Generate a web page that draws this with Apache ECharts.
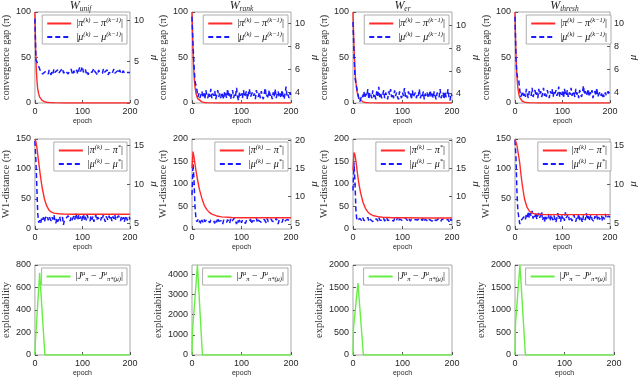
<!DOCTYPE html>
<html><head><meta charset="utf-8">
<script src="https://cdn.jsdelivr.net/npm/echarts@6/dist/echarts.min.js"></script>
<style>html,body{margin:0;padding:0;background:#fff}#c{width:640px;height:378px}</style>
</head><body><div id="c"></div>
<script>
// ---------------- DATA ----------------
const methodTitles = ['unif', 'rank', 'er', 'thresh'];
const xTicks = [0, 100, 200];

// noisy mu traces are sampled every 2 epochs (0..200)
const noiseEpochs = Array.from({length: 101}, (_, i) => i * 2);

// Row 1: |mu(k) - mu(k-1)|
const muGapUnif = [
  10.2, 5.3, 5.0, 4.7, 4.4, 4.1, 3.8, 3.6, 3.5, 3.7,
  3.4, 3.8, 3.6, 3.9, 3.5, 4.0, 3.7, 3.4, 3.9, 3.6,
  4.1, 3.7, 3.5, 3.8, 4.0, 3.6, 3.4, 3.9, 3.7, 4.2,
  3.6, 3.5, 3.9, 3.7, 4.0, 3.5, 3.8, 3.6, 4.1, 3.7,
  3.4, 3.9, 3.6, 3.8, 4.0, 3.5, 3.7, 4.3, 3.8, 3.6,
  4.4, 3.7, 3.5, 4.1, 3.6, 3.9, 3.4, 3.8, 4.0, 3.6,
  3.7, 3.5, 4.2, 3.8, 3.6, 3.9, 3.4, 4.0, 3.7, 3.5,
  3.9, 3.6, 4.1, 3.7, 3.5, 3.8, 4.0, 3.4, 3.7, 3.9,
  3.6, 3.5, 3.8, 4.1, 3.6, 3.7, 3.4, 3.9, 3.6, 4.0,
  3.8, 3.5, 3.7, 3.9, 3.6, 3.4, 3.8, 3.7, 3.5, 3.6,
  3.7];
const muGapRank = [
  10.6, 8.2, 6.4, 5.0, 4.6, 4.2, 3.6, 3.9, 3.5, 3.8,
  4.1, 3.6, 3.9, 3.4, 4.2, 3.7, 3.5, 4.0, 3.6, 4.3,
  3.5, 3.9, 3.7, 4.1, 3.4, 3.8, 4.2, 3.6, 3.9, 3.5,
  4.0, 3.7, 3.4, 4.1, 3.8, 3.5, 4.3, 3.6, 3.9, 3.4,
  3.8, 4.2, 3.5, 3.9, 3.7, 4.4, 3.6, 3.3, 4.0, 3.7,
  3.9, 3.5, 4.2, 3.6, 3.8, 4.1, 3.4, 3.9, 4.3, 3.6,
  3.5, 4.0, 3.7, 3.9, 3.4, 4.2, 3.8, 3.6, 4.0, 3.5,
  4.1, 3.7, 3.4, 3.9, 4.4, 3.6, 3.8, 3.5, 4.2, 3.7,
  3.9, 3.4, 4.0, 3.6, 4.3, 3.5, 3.8, 4.1, 3.6, 3.9,
  3.5, 4.2, 3.7, 3.4, 3.9, 4.5, 3.6, 3.8, 3.5, 4.0,
  3.7];
const muGapEr = [
  10.3, 7.6, 5.4, 4.9, 4.4, 4.0, 3.5, 3.3, 3.6, 3.9,
  3.7, 4.2, 3.6, 4.0, 3.8, 4.4, 3.5, 4.1, 3.9, 3.6,
  4.3, 3.7, 4.0, 3.5, 4.2, 3.8, 4.6, 3.7, 4.0, 3.6,
  3.9, 4.3, 3.6, 4.1, 3.8, 3.5, 4.2, 3.9, 4.4, 3.7,
  4.0, 3.6, 4.3, 3.8, 4.1, 3.7, 3.5, 4.2, 3.9, 3.6,
  4.1, 3.8, 4.5, 3.7, 3.9, 3.6, 4.2, 3.8, 4.0, 3.5,
  4.3, 3.7, 3.9, 4.1, 3.6, 4.0, 3.8, 4.4, 3.6, 3.9,
  3.7, 4.2, 3.5, 4.0, 3.8, 4.1, 3.6, 3.9, 4.3, 3.7,
  4.0, 3.6, 4.2, 3.8, 3.5, 4.1, 3.9, 3.7, 4.4, 3.6,
  3.9, 4.1, 3.5, 4.2, 3.7, 3.9, 4.4, 3.6, 3.4, 4.0,
  3.8];
const muGapThresh = [
  10.6, 7.0, 5.6, 5.2, 5.0, 4.2, 3.6, 3.8, 4.1, 3.7,
  4.0, 3.6, 4.3, 3.8, 3.5, 4.1, 3.9, 3.7, 4.4, 3.6,
  3.9, 4.2, 3.7, 4.0, 3.5, 4.3, 3.8, 4.1, 3.6, 3.9,
  4.4, 3.7, 4.0, 3.6, 4.2, 3.8, 3.5, 4.1, 3.9, 4.3,
  3.6, 4.0, 3.8, 4.2, 3.7, 3.9, 4.5, 3.6, 4.0, 3.8,
  4.1, 3.5, 4.3, 3.9, 3.7, 4.2, 3.6, 4.0, 3.8, 4.4,
  3.7, 4.1, 3.9, 3.6, 4.3, 3.8, 4.0, 3.5, 4.2, 3.9,
  3.6, 4.0, 4.6, 3.8, 4.1, 3.7, 3.9, 4.3, 3.6, 4.0,
  3.8, 4.2, 3.5, 3.9, 4.1, 3.7, 4.4, 3.6, 3.8, 4.0,
  3.7, 3.9, 3.5, 3.8, 3.6, 4.0, 3.7, 3.9, 4.1, 3.8,
  3.9];

// Row 1: |pi(k) - pi(k-1)|
const piGapEpochs = [0, 1, 2, 3, 4, 5, 6, 8, 10, 12, 15, 20, 25, 30, 40, 50, 60, 80, 100, 150, 200];
const piGapUnif   = [100, 72, 50, 36, 27, 20, 15, 10, 6.5, 4.5, 2.8, 1.4, 0.8, 0.5, 0.2, 0.1, 0.05, 0, 0, 0, 0];
const piGapRank   = [100, 78, 58, 42, 32, 24, 18, 11, 7, 4.5, 2.6, 1.2, 0.6, 0.3, 0.1, 0, 0, 0, 0, 0, 0];
const piGapEr     = [100, 80, 62, 48, 37, 28, 22, 13, 8, 5, 3, 1.3, 0.6, 0.3, 0.1, 0, 0, 0, 0, 0, 0];
const piGapThresh = [100, 75, 55, 40, 30, 23, 17, 10, 6, 4, 2.2, 1, 0.5, 0.2, 0.1, 0, 0, 0, 0, 0, 0];

// Row 2: |mu(k) - mu*|
const muDistUnif = [
  15.6, 13.2, 9.8, 6.2, 5.1, 5.4, 5.0, 5.6, 5.3, 5.8,
  5.2, 5.7, 5.5, 6.0, 5.4, 5.9, 5.6, 5.3, 5.8, 5.5,
  6.1, 5.4, 5.0, 5.7, 5.2, 5.6, 5.9, 5.3, 5.5, 5.8,
  4.8, 5.4, 5.2, 5.7, 5.5, 6.0, 5.6, 5.3, 5.8, 5.4,
  5.7, 6.0, 5.5, 6.3, 5.8, 5.4, 6.1, 5.6, 5.9, 5.3,
  5.7, 6.2, 5.5, 5.9, 5.4, 6.1, 5.6, 5.8, 5.3, 6.0,
  5.5, 5.9, 5.2, 5.7, 6.1, 5.4, 5.8, 5.6, 6.0, 5.3,
  5.8, 5.5, 6.2, 5.6, 5.2, 5.9, 5.7, 5.4, 6.0, 5.5,
  5.8, 5.3, 5.9, 5.6, 6.1, 5.4, 5.7, 5.5, 6.0, 5.6,
  5.3, 5.9, 5.5, 5.8, 5.2, 5.7, 6.0, 5.4, 5.6, 5.9,
  5.5];
const muDistRank = [
  10.2, 15.8, 13.0, 8.2, 6.0, 5.4, 5.8, 5.2, 5.6, 5.0,
  5.7, 5.3, 5.9, 5.4, 5.1, 5.8, 5.5, 6.0, 5.2, 5.7,
  5.4, 5.9, 5.6, 5.1, 5.8, 5.3, 6.1, 5.5, 5.2, 5.8,
  5.6, 5.0, 5.7, 5.4, 6.0, 5.3, 5.8, 5.5, 5.1, 5.9,
  5.4, 5.7, 5.2, 6.1, 5.5, 5.0, 5.8, 5.3, 5.6, 5.9,
  5.2, 5.7, 5.4, 6.0, 5.1, 5.6, 5.8, 5.3, 5.5, 5.9,
  5.0, 5.6, 5.3, 5.8, 5.5, 6.1, 5.2, 5.7, 5.4, 5.9,
  5.3, 5.6, 5.1, 5.8, 5.5, 5.2, 6.0, 5.4, 5.7, 5.3,
  5.9, 5.5, 5.2, 5.8, 5.4, 6.1, 5.6, 5.0, 5.7, 5.5,
  5.8, 5.3, 5.9, 5.4, 5.6, 5.2, 5.8, 5.5, 6.0, 5.6,
  5.7];
const muDistEr = [
  11.0, 16.0, 12.5, 7.2, 5.6, 5.9, 5.4, 6.0, 5.7, 5.5,
  6.1, 5.6, 5.9, 5.3, 5.8, 6.2, 5.5, 5.9, 5.6, 6.0,
  5.4, 5.8, 6.1, 5.6, 5.9, 5.5, 6.2, 5.7, 5.4, 5.9,
  5.6, 6.0, 5.5, 5.8, 6.2, 5.6, 5.9, 5.4, 5.8, 6.1,
  5.7, 5.5, 6.0, 5.8, 5.6, 6.2, 5.5, 5.9, 5.7, 6.0,
  5.6, 5.9, 5.4, 6.1, 5.8, 5.6, 6.0, 5.7, 5.5, 5.9,
  6.2, 5.6, 5.8, 5.5, 6.0, 5.7, 5.9, 5.4, 6.1, 5.8,
  5.6, 6.0, 5.5, 5.9, 5.7, 6.1, 5.4, 5.8, 5.6, 6.0,
  5.5, 5.9, 5.7, 6.2, 5.6, 5.8, 5.4, 6.0, 5.7, 5.5,
  5.9, 5.6, 6.1, 5.7, 5.5, 5.9, 5.8, 5.4, 6.0, 5.6,
  5.8];
const muDistThresh = [
  15.6, 13.5, 9.2, 6.6, 5.8, 4.9, 5.3, 5.1, 5.6, 5.4,
  5.9, 5.5, 6.2, 5.8, 6.5, 5.7, 6.3, 5.9, 6.6, 5.6,
  6.1, 5.8, 6.4, 5.5, 6.0, 6.3, 5.7, 5.9, 6.5, 5.4,
  5.8, 5.2, 6.0, 5.5, 5.9, 6.2, 5.6, 5.3, 6.1, 5.7,
  5.4, 6.0, 5.8, 5.1, 5.7, 6.3, 5.5, 5.9, 5.2, 6.1,
  5.6, 5.9, 5.3, 6.4, 5.7, 5.5, 6.2, 5.4, 5.8, 6.0,
  5.3, 5.7, 6.1, 5.5, 5.2, 5.9, 5.6, 6.2, 5.4, 5.8,
  5.6, 5.1, 6.0, 5.7, 5.4, 6.3, 5.5, 5.9, 5.3, 5.8,
  6.1, 5.5, 5.7, 5.2, 5.9, 5.6, 6.0, 5.4, 5.8, 5.5,
  5.7, 6.0, 5.3, 5.8, 5.5, 6.2, 5.6, 5.4, 5.9, 5.7,
  5.8];

// Row 2: |pi(k) - pi*|
const piDistEpochs = [0, 2, 4, 6, 8, 10, 12, 15, 20, 25, 30, 35, 40, 50, 60, 80, 100, 150, 200];
const piDistUnif   = [150, 146, 137, 124, 111, 98, 86, 70, 50, 38, 31, 28, 26.5, 25.5, 25, 24.5, 24.5, 24.5, 24.5];
const piDistRank   = [135, 172, 160, 145, 130, 117, 105, 88, 68, 52, 43, 37, 33, 29, 27, 25.5, 25, 25, 25];
const piDistEr     = [130, 170, 165, 150, 132, 115, 100, 82, 60, 46, 38, 33, 30, 27.5, 26, 25, 25, 24.5, 24.5];
const piDistThresh = [150, 148, 140, 130, 120, 110, 95, 75, 50, 37, 30, 27, 25.5, 24.5, 24, 24, 24, 24, 24];

// Row 3: exploitability
const exploitEpochsUnif   = [0, 1, 10, 21, 200];
const exploitUnif         = [0, 120, 730, 0, 0];
const exploitEpochsRank   = [0, 1, 11, 21, 200];
const exploitRank         = [0, 1200, 4450, 0, 0];
const exploitEpochsEr     = [0, 1, 10, 21, 200];
const exploitEr           = [0, 600, 1600, 0, 0];
const exploitEpochsThresh = [0, 1, 10, 21, 200];
const exploitThresh       = [0, 700, 2000, 0, 0];

// axis ranges / tick labels
const r1LeftTicks = [0, 50, 100];
const r1RightRange = [[0, 11], [3.07, 11.02], [3.18, 11.18], [3.07, 11.02]];
const r1RightTicks = [[0, 5, 10], [4, 6, 8, 10], [4, 6, 8, 10], [4, 6, 8, 10]];
const r2LeftRange = [150, 200, 200, 150];
const r2LeftTicks = [[0, 50, 100, 150], [0, 50, 100, 150, 200], [0, 50, 100, 150, 200], [0, 50, 100, 150]];
const r2RightRange = [[4.28, 15.86], [4.1, 20.2], [4.1, 20.2], [4.27, 15.77]];
const r2RightTicks = [[5, 10, 15], [5, 10, 15, 20], [5, 10, 15, 20], [5, 10, 15]];
const r3LeftRange = [800, 4450, 2000, 2000];
const r3LeftTicks = [[0, 200, 400, 600, 800], [0, 1000, 2000, 3000, 4000], [0, 500, 1000, 1500, 2000], [0, 500, 1000, 1500, 2000]];

// ---------------- LAYOUT / STYLE ----------------
const colLeft = [31, 192, 353, 515];
const colWidth = 99;
const rowTop = [12, 139, 265];
const rowHeight = [91, 90, 90];
const leftGap = [[18.5, 20, 22, 21], [20.5, 20, 21, 23.5], [19.5, 24, 24, 25.5]];
const rightGap = [[13, 15, 13, 12], [13.5, 15, 13, 11]];

const SANS = 'Liberation Sans, Arial, sans-serif';
const SERIF = 'Liberation Serif, Times New Roman, serif';
const TXT = '#262626';
const RED = '#ff2a2a', BLUE = '#1a1aff', GREEN = '#66ee44';

const grids = [], xAxes = [], yAxes = [], series = [], legends = [], graphics = [];
const tickStyle = {color: '#333', width: 0.8};

function xAxisFor(g) {
  return {type: 'value', gridIndex: g, min: 0, max: 200, interval: 100,
    name: 'epoch', nameLocation: 'middle', nameGap: 15,
    nameTextStyle: {fontFamily: SANS, fontSize: 7, color: TXT},
    axisLine: {show: false},
    axisTick: {show: true, inside: true, length: 3, lineStyle: tickStyle, customValues: xTicks},
    axisLabel: {fontFamily: SANS, fontSize: 9, color: TXT, margin: 4, customValues: xTicks},
    splitLine: {show: false}};
}
function yAxisFor(g, pos, min, max, ticks, name, gap) {
  const isRight = pos === 'right';
  return {type: 'value', gridIndex: g, position: pos, min: min, max: max,
    name: name, nameLocation: 'middle', nameRotate: 90, nameGap: gap,
    nameTextStyle: isRight
      ? {fontFamily: SERIF, fontStyle: 'italic', fontSize: 11, color: TXT}
      : {fontFamily: SERIF, fontSize: 10.5, color: '#333'},
    axisLine: {show: false},
    axisTick: {show: true, inside: true, length: 3, lineStyle: tickStyle, customValues: ticks},
    axisLabel: {fontFamily: SANS, fontSize: 9, color: TXT, margin: 4, customValues: ticks,
      formatter: (v) => String(v)},
    splitLine: {show: false}};
}
function lineSeries(name, xi, yi, xs, ys, color, dashed) {
  return {type: 'line', name: name, xAxisIndex: xi, yAxisIndex: yi,
    data: xs.map((x, i) => [x, ys[i]]),
    symbol: 'none', showSymbol: false, silent: true, animation: false,
    lineStyle: {color: color, width: dashed ? 1.5 : 1.4, type: dashed ? [5, 3] : 'solid'},
    itemStyle: {color: color}};
}

const legendText = {
  pigap: '{n||}{i|π}{sp|(k)}{n| − }{i|π}{sp|(k−1)}{n||}',
  mugap: '{n||}{i|μ}{sp|(k)}{n| − }{i|μ}{sp|(k−1)}{n||}',
  pidist: '{n||}{i|π}{sp|(k)}{n| − }{i|π}{sp|*}{n||}',
  mudist: '{n||}{i|μ}{sp|(k)}{n| − }{i|μ}{sp|*}{n||}',
  expl: '{n||}{i|J}{sp|μ}{sb|π}{n| − }{i|J}{sp|μ}{sb|π*(μ)}{n||}'
};
const rich = {
  n: {fontFamily: SERIF, fontSize: 10, color: '#111', lineHeight: 13},
  i: {fontFamily: SERIF, fontStyle: 'italic', fontSize: 10, color: '#111', lineHeight: 13},
  sp: {fontFamily: SERIF, fontStyle: 'italic', fontSize: 6.5, color: '#111', verticalAlign: 'top'},
  sb: {fontFamily: SERIF, fontStyle: 'italic', fontSize: 6.5, color: '#111', verticalAlign: 'bottom'}
};
function addLegend(r, c, names) {
  legends.push({orient: 'vertical', right: 640 - (colLeft[c] + colWidth) + 3, top: rowTop[r] + 3,
    data: names, itemWidth: 24, itemHeight: 10, itemGap: 2, padding: [2, 4, 2, 4],
    borderColor: '#999', borderWidth: 0.8, backgroundColor: '#fff', selectedMode: false,
    itemStyle: {opacity: 0, borderWidth: 0},
    formatter: (n) => legendText[n.split('_')[0]],
    textStyle: {rich: rich, fontSize: 10}});
}

const muGap = [muGapUnif, muGapRank, muGapEr, muGapThresh];
const piGap = [piGapUnif, piGapRank, piGapEr, piGapThresh];
const muDist = [muDistUnif, muDistRank, muDistEr, muDistThresh];
const piDist = [piDistUnif, piDistRank, piDistEr, piDistThresh];
const exploitX = [exploitEpochsUnif, exploitEpochsRank, exploitEpochsEr, exploitEpochsThresh];
const exploitY = [exploitUnif, exploitRank, exploitEr, exploitThresh];

for (let r = 0; r < 3; r++) {
  for (let c = 0; c < 4; c++) {
    const g = grids.length;
    grids.push({left: colLeft[c], top: rowTop[r], width: colWidth, height: rowHeight[r],
      show: true, borderColor: '#a8a8a8', borderWidth: 1, backgroundColor: '#fff'});
    xAxes.push(xAxisFor(g));
    if (r === 0) {
      const yl = yAxes.length;
      yAxes.push(yAxisFor(g, 'left', 0, 100, r1LeftTicks, 'convergence gap (π)', leftGap[r][c]));
      const yr = yAxes.length;
      yAxes.push(yAxisFor(g, 'right', r1RightRange[c][0], r1RightRange[c][1], r1RightTicks[c], 'μ', rightGap[r][c]));
      series.push(lineSeries('pigap_' + c, g, yl, piGapEpochs, piGap[c], RED, false));
      series.push(lineSeries('mugap_' + c, g, yr, noiseEpochs, muGap[c], BLUE, true));
      addLegend(r, c, ['pigap_' + c, 'mugap_' + c]);
    } else if (r === 1) {
      const yl = yAxes.length;
      yAxes.push(yAxisFor(g, 'left', 0, r2LeftRange[c], r2LeftTicks[c], 'W1-distance (π)', leftGap[r][c]));
      const yr = yAxes.length;
      yAxes.push(yAxisFor(g, 'right', r2RightRange[c][0], r2RightRange[c][1], r2RightTicks[c], 'μ', rightGap[r][c]));
      series.push(lineSeries('mudist_' + c, g, yr, noiseEpochs, muDist[c], BLUE, true));
      series.push(lineSeries('pidist_' + c, g, yl, piDistEpochs, piDist[c], RED, false));
      addLegend(r, c, ['pidist_' + c, 'mudist_' + c]);
    } else {
      const yl = yAxes.length;
      yAxes.push(yAxisFor(g, 'left', 0, r3LeftRange[c], r3LeftTicks[c], 'exploitability', leftGap[r][c]));
      series.push(lineSeries('expl_' + c, g, yl, exploitX[c], exploitY[c], GREEN, false));
      addLegend(r, c, ['expl_' + c]);
    }
  }
}

for (let c = 0; c < 4; c++) {
  graphics.push({type: 'text', x: colLeft[c] + colWidth / 2, y: 6, silent: true,
    style: {text: '{w|W}{s|' + methodTitles[c] + '}', align: 'center', verticalAlign: 'middle',
      rich: {
        w: {fontFamily: SERIF, fontStyle: 'italic', fontWeight: 'normal', fontSize: 12, fill: TXT, color: TXT, lineHeight: 14},
        s: {fontFamily: SERIF, fontStyle: 'italic', fontWeight: 'normal', fontSize: 7.5, fill: TXT, color: TXT, verticalAlign: 'bottom'}}}});
}

const chart = echarts.init(document.getElementById('c'), null, {renderer: 'canvas'});
chart.setOption({animation: false, backgroundColor: '#fff',
  grid: grids, xAxis: xAxes, yAxis: yAxes, legend: legends, series: series, graphic: graphics});
</script>
</body></html>
